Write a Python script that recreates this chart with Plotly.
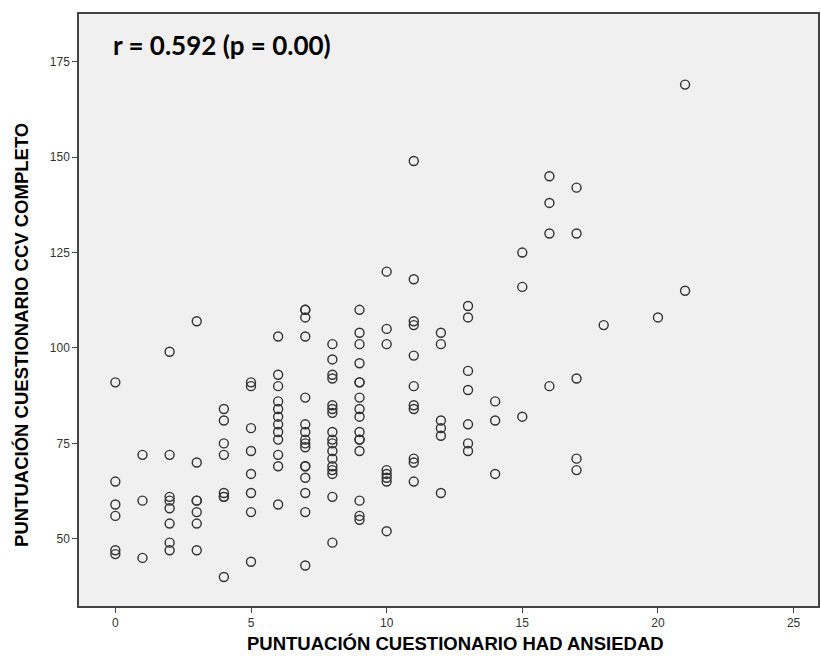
import plotly.graph_objects as go

# HAD anxiety score (x) and CCV questionnaire score (y), one entry per subject
had_ansiedad = (
    [0] * 6 + [1] * 3 + [2] * 8 + [3] * 7 + [4] * 8 + [5] * 8 + [6] * 12 +
    [7] * 16 + [8] * 17 + [9] * 16 + [10] * 8 + [11] * 11 + [12] * 6 +
    [13] * 7 + [14] * 3 + [15] * 3 + [16] * 4 + [17] * 5 + [18] * 1 +
    [20] * 1 + [21] * 2
)
ccv_completo = [
    91, 65, 59, 56, 47, 46,
    72, 60, 45,
    99, 72, 61, 60, 58, 54, 49, 47,
    107, 70, 60, 60, 57, 54, 47,
    84, 81, 75, 72, 62, 61, 61, 40,
    91, 90, 79, 73, 67, 62, 57, 44,
    103, 93, 90, 86, 84, 82, 80, 78, 76, 72, 69, 59,
    110, 110, 108, 103, 87, 80, 78, 76, 75, 74, 69, 69, 66, 62, 57, 43,
    101, 97, 93, 92, 85, 84, 83, 78, 76, 75, 73, 71, 69, 68, 67, 61, 49,
    110, 104, 101, 96, 91, 91, 87, 84, 82, 78, 76, 76, 73, 60, 56, 55,
    120, 105, 101, 68, 67, 66, 65, 52,
    149, 118, 107, 106, 98, 90, 85, 84, 71, 70, 65,
    104, 101, 81, 79, 77, 62,
    111, 108, 94, 89, 80, 75, 73,
    86, 81, 67,
    125, 116, 82,
    145, 138, 130, 90,
    142, 130, 92, 71, 68,
    106,
    108,
    169, 115,
]
x_ticks = [0, 5, 10, 15, 20, 25]
y_ticks = [50, 75, 100, 125, 150, 175]
x_title = "PUNTUACIÓN CUESTIONARIO HAD ANSIEDAD"
y_title = "PUNTUACIÓN CUESTIONARIO CCV COMPLETO"
annotation_text = "r = 0.592 (p = 0.00)"

fig = go.Figure()
fig.add_trace(go.Scatter(
    x=had_ansiedad, y=ccv_completo, mode="markers",
    marker=dict(symbol="circle-open", size=9, color="#333333",
                line=dict(width=1.4, color="#333333")),
    showlegend=False, hoverinfo="x+y",
))

axis_common = dict(
    showgrid=False, zeroline=False, showline=True, mirror=True,
    linecolor="#444444", linewidth=1.5, ticks="outside", ticklen=5,
    tickcolor="#444444", tickwidth=1.3, automargin=False,
    tickfont=dict(family="Liberation Sans, Arial, sans-serif", size=12, color="#333333"),
)

title_font = dict(family="Liberation Sans, Arial, sans-serif", size=18.5, color="black")

fig.update_layout(
    width=821, height=666,
    margin=dict(l=79, r=3, t=14, b=60, autoexpand=False),
    paper_bgcolor="white", plot_bgcolor="#f0f0f0",
    xaxis=dict(range=[-1.34, 25.9], tickvals=x_ticks, **axis_common),
    yaxis=dict(range=[32.4, 187.5], tickvals=y_ticks, **axis_common),
    annotations=[
        dict(text="<b>" + annotation_text + "</b>", xref="paper", yref="paper",
             x=0.043, y=0.948, xanchor="left", yanchor="middle", showarrow=False,
             font=dict(family="Lato, Open Sans, sans-serif", size=26, color="black")),
        dict(text="<b>" + x_title + "</b>", xref="paper", yref="paper",
             x=0.510, y=-0.063, xanchor="center", yanchor="middle", showarrow=False,
             font=title_font),
        dict(text="<b>" + y_title + "</b>", xref="paper", yref="paper",
             x=-0.0771, y=0.458, xanchor="center", yanchor="middle", showarrow=False,
             textangle=-90, font=title_font),
    ],
)

fig.write_html(
    "out.html",
    config={"displayModeBar": False},
    post_script="document.body.style.margin='0';document.body.style.overflow='hidden';",
)
